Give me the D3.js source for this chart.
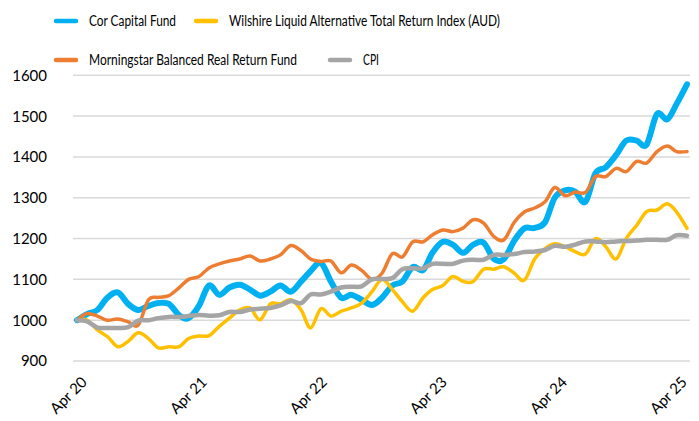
<!DOCTYPE html>
<html><head><meta charset="utf-8">
<script src="https://cdn.jsdelivr.net/npm/d3@7"></script>
<style>
html,body{margin:0;padding:0;background:#fff;}
svg{display:block;font-family:Lato,"Open Sans",sans-serif;}
</style></head>
<body>
<svg id="chart" width="699" height="421"></svg>
<script>
// ---- data (monthly, Apr 2020 – Apr 2025) ----
const startMonth = "2020-04";
const seriesNames = ["Cor Capital Fund","Wilshire Liquid Alternative Total Return Index (AUD)","Morningstar Balanced Real Return Fund","CPI"];
const corCapital = [1000,1015,1025,1055,1068,1040,1025,1035,1042,1040,1012,1005,1035,1085,1062,1080,1087,1075,1060,1070,1085,1070,1095,1120,1140,1095,1055,1062,1050,1037,1055,1085,1095,1130,1123,1165,1192,1185,1165,1185,1190,1150,1150,1195,1225,1226,1240,1300,1318,1315,1290,1360,1375,1405,1440,1440,1430,1505,1492,1530,1578];
const wilshire = [1000,1000,976,960,935,948,969,955,932,935,935,955,961,962,985,1005,1025,1030,1001,1040,1040,1050,1025,981,1028,1010,1022,1030,1042,1070,1100,1075,1045,1022,1055,1075,1085,1107,1095,1095,1125,1125,1131,1115,1098,1150,1175,1187,1180,1168,1162,1200,1180,1150,1200,1232,1266,1270,1285,1265,1225];
const morningstar = [1000,1016,1010,1000,1003,996,988,1050,1056,1060,1080,1100,1107,1128,1138,1145,1150,1157,1145,1150,1160,1183,1170,1150,1144,1145,1116,1135,1122,1100,1115,1163,1155,1192,1192,1209,1221,1217,1226,1246,1238,1205,1197,1240,1265,1275,1290,1325,1305,1314,1313,1352,1352,1372,1364,1389,1385,1413,1427,1413,1413];
const cpi = [1000,997,982,981,981,983,999,1000,1005,1008,1008,1010,1013,1011,1012,1020,1020,1026,1028,1030,1036,1047,1042,1063,1063,1070,1080,1082,1083,1100,1101,1103,1125,1127,1127,1138,1138,1138,1146,1148,1148,1160,1160,1162,1167,1168,1172,1182,1180,1185,1193,1193,1191,1193,1194,1195,1197,1197,1197,1208,1207];
const yTicks = [900,1000,1100,1200,1300,1400,1500,1600];
const xTickLabels = ["Apr 20","Apr 21","Apr 22","Apr 23","Apr 24","Apr 25"];
const colors = ["#00B0F0","#FFC000","#ED7D31","#A5A5A5"];

// ---- build ----
const parse = d3.timeParse("%Y-%m");
const t0 = parse(startMonth);
const dates = corCapital.map((_, i) => d3.timeMonth.offset(t0, i));
const allSeries = [corCapital, wilshire, morningstar, cpi];
const widths = [6, 3.5, 3.5, 4.5];

const svg = d3.select("#chart");
const x = d3.scaleTime().domain([dates[0], dates[dates.length-1]]).range([77, 687]);
const y = d3.scaleLinear().domain([900, 1600]).range([361, 75.3]);
const xLab = d3.scaleTime().domain(x.domain()).range([88, 688]);

// gridlines
svg.append("g").selectAll("line").data(yTicks).join("line")
  .attr("x1", 73).attr("x2", 690)
  .attr("y1", d => y(d)).attr("y2", d => y(d))
  .attr("stroke", "#d9d9d9").attr("stroke-width", 1.5);

// y labels
svg.append("g").selectAll("text").data(yTicks).join("text")
  .attr("x", 47).attr("y", d => y(d)).attr("dy", "0.36em")
  .attr("text-anchor", "end").attr("font-size", 15).attr("fill", "#000")
  .text(d => d);

// x labels
const labelDates = xTickLabels.map((_, i) => d3.timeMonth.offset(t0, 12*i));
svg.append("g").selectAll("text").data(labelDates).join("text")
  .attr("transform", (d) => `translate(${xLab(d)},383) rotate(-45)`)
  .attr("text-anchor", "end").attr("font-size", 15).attr("fill", "#000")
  .text((d, i) => xTickLabels[i]);

// lines
const line = d3.line().x((d, i) => x(dates[i])).y(d => y(d)).curve(d3.curveCardinal.tension(0));
svg.append("g").selectAll("path").data(allSeries).join("path")
  .attr("d", d => line(d))
  .attr("fill", "none")
  .attr("stroke", (d, i) => colors[i])
  .attr("stroke-width", (d, i) => widths[i])
  .attr("stroke-linejoin", "round").attr("stroke-linecap", "round");

// legend
const legendPos = [[55, 21], [195, 21], [55, 60], [329, 60]];
const legendTextLen = [87, 271, 208, 16];
const lg = svg.append("g").selectAll("g").data(seriesNames).join("g")
  .attr("transform", (d, i) => `translate(${legendPos[i][0]},${legendPos[i][1]})`);
lg.append("line").attr("x1", 1).attr("x2", 21).attr("y1", 0).attr("y2", 0)
  .attr("stroke", (d, i) => colors[i]).attr("stroke-width", 4.5).attr("stroke-linecap", "round");
lg.append("text").attr("x", 34).attr("dy", "0.35em").attr("font-size", 15.5)
  .attr("textLength", (d, i) => legendTextLen[i]).attr("lengthAdjust", "spacingAndGlyphs")
  .attr("fill", "#000")
  .text(d => d);
</script>
</body></html>
